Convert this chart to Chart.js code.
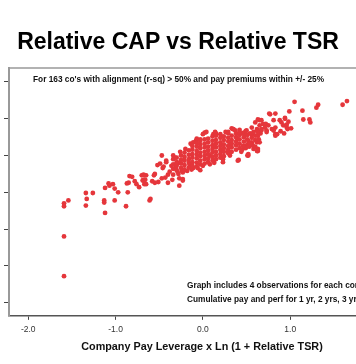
<!DOCTYPE html>
<html><head><meta charset="utf-8">
<script src="https://cdn.jsdelivr.net/npm/chart.js@4"></script>
<style>
html,body{margin:0;padding:0;background:#fff;overflow:hidden;width:356px;height:364px;position:relative}
#title{position:absolute;left:0;top:29px;width:356px;text-align:center;font:bold 23px "Liberation Sans",Arial,sans-serif;line-height:24px;color:#000;white-space:nowrap}
#wrap{position:absolute;left:0;top:0;width:400px;height:364px}
</style></head><body>
<div id="wrap"><canvas id="c" width="400" height="364"></canvas></div>
<div id="title">Relative CAP vs Relative TSR</div>
<script>
const chartTitle = "Relative CAP vs Relative TSR";
const xAxisTitle = "Company Pay Leverage x Ln (1 + Relative TSR)";
const noteTop = "For 163 co's with alignment (r-sq) > 50% and pay premiums within +/- 25%";
const noteBottom1 = "Graph includes 4 observations for each company";
const noteBottom2 = "Cumulative pay and perf for 1 yr, 2 yrs, 3 yrs, 4 yrs";
const xTicks = [-2, -1, 0, 1, 2];
const yTicks = [-1.5, -1, -0.5, 0, 0.5, 1, 1.5];

const sparseLeft = [
[-1.59,-0.15],[-1.59,-0.19],[-1.54,-0.11],[-1.59,-0.60],[-1.59,-1.14],
[-1.34,-0.01],[-1.26,-0.01],[-1.33,-0.09],[-1.34,-0.18],
[-1.13,-0.11],[-1.13,-0.14],[-1.12,-0.28],[-1.12,0.06],[-1.08,0.12],[-1.07,0.09],[-1.03,0.11],[-1.01,0.05],[-0.97,0.00],[-1.01,-0.11],
[-0.88,-0.19],[-0.86,0.00],[-0.87,0.12],[-0.85,0.13],[-0.84,0.22],[-0.81,0.21],[-0.78,0.15],[-0.76,0.11],[-0.73,0.07],
[-0.70,0.23],[-0.67,0.23],[-0.65,0.23],[-0.68,0.17],[-0.67,0.11],[-0.65,0.11],[-0.60,-0.09],[-0.61,-0.11],[-0.58,0.15],[-0.56,0.23],
[-0.66,0.17],[-0.69,0.16],[-0.68,0.24]
];
const midScatter = [
[-0.55,0.25],[-0.52,0.37],[-0.49,0.39],[-0.47,0.50],[-0.46,0.33],[-0.42,0.41],[-0.40,0.24],[-0.43,0.20],[-0.38,0.28],[-0.34,0.50],[-0.34,0.24],[-0.29,0.28],[-0.27,0.19],[-0.23,0.16],[-0.24,0.29],[-0.51,0.14],[-0.55,0.13],[-0.23,0.18],[-0.27,0.09],[-0.45,0.35],[-0.42,0.43],[-0.32,0.47],
[-0.47,0.19],[-0.40,0.13],[-0.35,0.17],[-0.31,0.33],[-0.36,0.36],[-0.28,0.40],
[-0.11,0.33],[-0.03,0.30],[0.00,0.36],[0.08,0.38],[0.13,0.40],[0.23,0.41],[0.23,0.45],[0.31,0.50],[0.41,0.44],[0.51,0.50],[0.63,0.56],[0.63,0.59],[0.62,0.68],[0.58,0.59],[0.55,0.64],[0.52,0.50],[0.29,0.55],
[-0.08,0.70],[-0.03,0.72],[0.02,0.81],[0.00,0.79],[0.04,0.82],[0.12,0.79],[0.14,0.82],[0.15,0.80],[0.33,0.87],[0.34,0.86],[0.42,0.85],[0.47,0.81],[0.48,0.79],[0.56,0.79],[0.39,0.73],[0.31,0.64],[0.21,0.56],[0.08,0.50],[0.52,0.70],[-0.15,0.38],[-0.06,0.33]
];
const coreCluster = [
[-0.34,0.32],[-0.34,0.38],[-0.34,0.45],
[-0.30,0.30],[-0.30,0.36],[-0.30,0.41],[-0.30,0.47],
[-0.28,0.25],[-0.23,0.27],[-0.18,0.29],[-0.13,0.31],
[-0.26,0.55],[-0.20,0.59],[-0.14,0.66],[-0.11,0.68],[-0.07,0.73],
[-0.25,0.33],[-0.25,0.39],[-0.25,0.44],[-0.25,0.50],
[-0.21,0.31],[-0.21,0.37],[-0.21,0.43],[-0.21,0.48],[-0.21,0.54],
[-0.16,0.34],[-0.16,0.40],[-0.16,0.45],[-0.16,0.51],[-0.16,0.57],
[-0.12,0.36],[-0.12,0.41],[-0.12,0.47],[-0.12,0.52],[-0.12,0.58],[-0.12,0.63],
[-0.07,0.35],[-0.07,0.40],[-0.07,0.46],[-0.07,0.51],[-0.07,0.56],[-0.07,0.62],[-0.07,0.67],
[-0.03,0.38],[-0.03,0.43],[-0.03,0.49],[-0.03,0.54],[-0.03,0.60],[-0.03,0.65],[-0.03,0.70],
[0.02,0.39],[0.02,0.45],[0.02,0.50],[0.02,0.55],[0.02,0.61],[0.02,0.66],[0.02,0.72],
[0.06,0.41],[0.06,0.46],[0.06,0.52],[0.06,0.57],[0.06,0.62],[0.06,0.68],[0.06,0.73],
[0.11,0.43],[0.11,0.48],[0.11,0.54],[0.11,0.59],[0.11,0.64],[0.11,0.70],[0.11,0.76],
[0.15,0.45],[0.15,0.50],[0.15,0.55],[0.15,0.61],[0.15,0.66],[0.15,0.71],[0.15,0.77],
[0.20,0.47],[0.20,0.52],[0.20,0.58],[0.20,0.63],[0.20,0.68],[0.20,0.74],[0.20,0.79],
[0.24,0.49],[0.24,0.55],[0.24,0.60],[0.24,0.65],[0.24,0.71],[0.24,0.76],[0.26,0.82],
[0.29,0.53],[0.29,0.58],[0.29,0.63],[0.29,0.69],[0.29,0.74],[0.29,0.80],
[0.33,0.55],[0.33,0.61],[0.33,0.66],[0.33,0.71],[0.33,0.77],[0.37,0.84],
[0.38,0.58],[0.38,0.64],[0.38,0.69],[0.38,0.75],[0.38,0.80],
[0.42,0.60],[0.42,0.66],[0.42,0.72],[0.42,0.78],[0.44,0.55],
[0.47,0.63],[0.47,0.69],[0.47,0.75],[0.45,0.58],[0.45,0.80],
[0.51,0.65],[0.51,0.72],[0.51,0.78],[0.49,0.60],[0.49,0.83],
[0.56,0.68],[0.56,0.74],[0.53,0.62],[0.54,0.80],
[0.60,0.71],[0.60,0.77],[0.57,0.64],[0.58,0.82],[0.60,0.62],[0.64,0.72],[0.66,0.80]
];
const bandEdge = [
[0.29,0.82],[0.35,0.86],[0.42,0.82],[0.50,0.84],[0.56,0.88],[0.60,0.95],[0.62,0.84],[0.65,0.91],[0.69,0.93],
[0.63,0.77],[0.65,0.68],[0.62,0.56],[0.52,0.52],[0.40,0.43],[0.46,0.63],[0.54,0.66],[0.73,0.82],[0.79,0.86],[0.83,0.79]
];
const upperRight = [
[0.65,0.98],[0.72,0.93],[0.62,0.86],[0.67,0.84],[0.73,0.84],[0.63,0.99],[0.67,0.98],[0.63,0.82],[0.67,0.86],[0.71,0.88],[0.75,0.91],[0.77,1.06],[0.83,1.07],[0.81,0.98],[0.88,0.98],[0.94,1.01],[0.92,0.91],[0.96,0.88],[0.97,0.86],[0.83,0.88],[0.81,0.84],[0.85,0.79],[0.83,0.77],[0.76,1.07],[1.05,1.23],[0.99,1.10],[1.14,1.11],[1.30,1.15],[1.32,1.19],[1.60,1.19],[1.65,1.24],[1.15,0.99],[1.22,0.99],[1.23,0.95],[0.94,1.00],[0.90,0.95],[0.98,0.96],[0.96,0.92],[1.01,0.87],[0.89,0.83],[0.93,0.80]
];

const allPoints = [...sparseLeft, ...midScatter, ...coreCluster, ...bandEdge, ...upperRight].map(p => ({x: p[0], y: p[1]}));

const FONT = '"Liberation Sans", Arial, sans-serif';

const framePlugin = {
  id: 'frameNotes',
  afterDraw(chart) {
    const ctx = chart.ctx, a = chart.chartArea;
    ctx.save();
    ctx.strokeStyle = '#999';
    ctx.lineWidth = 1.5;
    ctx.beginPath();
    ctx.moveTo(a.left, a.top);
    ctx.lineTo(a.right, a.top);
    ctx.lineTo(a.right, a.bottom);
    ctx.stroke();
    ctx.fillStyle = '#111';
    ctx.textBaseline = 'middle';
    ctx.textAlign = 'left';
    ctx.font = 'bold 8.3px ' + FONT;
    ctx.fillText(noteTop, a.left + 24, a.top + 12);
    ctx.fillText(noteBottom1, a.left + 178, a.bottom - 30);
    ctx.fillText(noteBottom2, a.left + 178, a.bottom - 16);
    ctx.restore();
  }
};

new Chart(document.getElementById('c'), {
  type: 'scatter',
  data: { datasets: [{
    data: allPoints,
    backgroundColor: '#e5363b',
    borderWidth: 0,
    pointRadius: 2.4,
    pointHoverRadius: 2.4
  }]},
  options: {
    responsive: false,
    devicePixelRatio: 1,
    animation: false,
    layout: { padding: { left: 4, top: 68, right: 5, bottom: 10 } },
    plugins: { legend: { display: false }, tooltip: { enabled: false }, title: { display: false } },
    scales: {
      x: {
        type: 'linear', min: -2.22, max: 2.2,
        afterBuildTicks: s => { s.ticks = xTicks.map(v => ({ value: v })); },
        ticks: { font: { family: FONT, size: 8.5 }, color: '#333', padding: 5, callback: v => Number(v).toFixed(1) },
        grid: { drawOnChartArea: false, drawTicks: true, tickLength: 4, color: '#444', lineWidth: 1 },
        border: { color: '#555', width: 1.5 },
        title: { display: true, text: xAxisTitle, color: '#111', font: { family: FONT, size: 10.8, weight: 'bold' }, padding: { top: 1, bottom: 0 } }
      },
      y: {
        type: 'linear', min: -1.68, max: 1.69,
        afterBuildTicks: s => { s.ticks = yTicks.map(v => ({ value: v })); },
        ticks: { display: false },
        grid: { drawOnChartArea: false, drawTicks: true, tickLength: 5, color: '#444', lineWidth: 1 },
        border: { color: '#999', width: 2 }
      }
    }
  },
  plugins: [framePlugin]
});
</script>
</body></html>
